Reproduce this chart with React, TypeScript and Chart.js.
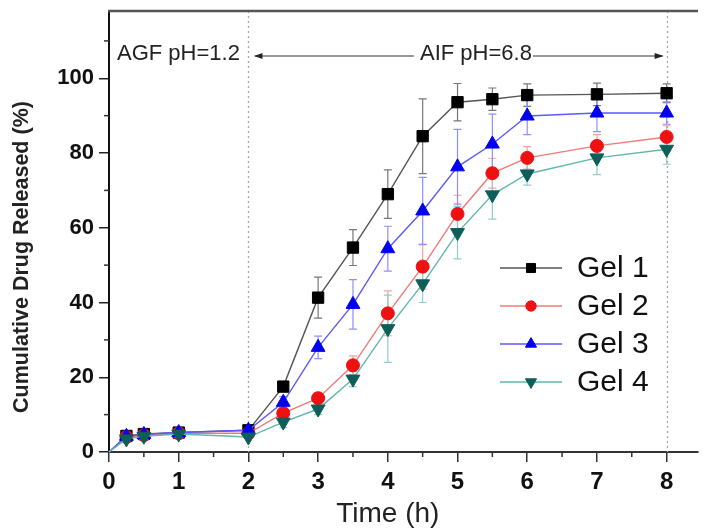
import React, { useEffect, useRef } from 'react';
import { Chart, registerables } from 'chart.js';
import { drawPoint } from 'chart.js/helpers';

Chart.register(...registerables);

// ---- data ----
const times = [0, 0.25, 0.5, 1, 2, 2.5, 3, 3.5, 4, 4.5, 5, 5.5, 6, 7, 8];
const seriesNames = ['Gel 1', 'Gel 2', 'Gel 3', 'Gel 4'];
const gel1 = [0, 4.3, 4.8, 5.2, 5.8, 17.5, 41.3, 54.7, 69.0, 84.5, 93.6, 94.4, 95.5, 95.7, 96.0];
const gel2 = [0, 4.0, 4.5, 5.0, 5.0, 10.4, 14.4, 23.2, 37.1, 49.6, 63.7, 74.6, 78.7, 81.9, 84.3];
const gel3 = [0, 4.2, 4.7, 5.2, 5.8, 13.3, 28.0, 39.5, 54.4, 64.5, 76.3, 82.4, 89.9, 90.7, 90.7];
const gel4 = [0, 3.5, 4.2, 4.8, 4.0, 8.0, 11.5, 19.5, 33.0, 45.0, 58.7, 68.8, 74.4, 78.7, 81.0];
const err1 = [0, 1, 1, 1, 1, 1, 5.5, 4.8, 6.5, 10, 5, 3, 3, 3, 2.5];
const err2 = [0, 0.8, 0.8, 1, 1, 1, 1.5, 2.5, 6, 6, 5, 4, 3, 3, 3];
const err3 = [0, 1, 1, 1.2, 1, 1.5, 3, 6.6, 6, 9, 10, 8, 5, 5, 3];
const err4 = [0, 0.8, 0.8, 1, 1, 1.5, 1.5, 2, 9, 5, 7, 6.5, 3, 4.5, 4];
const xTicks = [0, 1, 2, 3, 4, 5, 6, 7, 8];
const yTicks = [0, 20, 40, 60, 80, 100];
const phaseLabels = ['AGF pH=1.2', 'AIF pH=6.8'];
const phaseBoundaries = [2, 8];
const xTitle = 'Time (h)';
const yTitle = 'Cumulative Drug Released (%)';

const seriesValues = [gel1, gel2, gel3, gel4];
const seriesErrors = [err1, err2, err3, err4];

// ---- styles ----
const FONT = '"Liberation Sans", Arial, Helvetica, sans-serif';
const lineColors = ['#555555', '#f07a7a', '#5a5aff', '#5fb8aa'];
const markerColors = ['#000000', '#ee1111', '#0000ee', '#0d5e58'];
const errColors = ['#777777', '#f5a0a0', '#8f8fff', '#8fcfc5'];
const markerStyles = ['rect', 'circle', 'triangle', 'triangle'];
const markerRot = [0, 0, 0, 180];
const markerRadius = [8, 6.5, 8, 8];

const overlay = {
  id: 'overlay',
  beforeDatasetsDraw(chart: any) {
    const { ctx, chartArea } = chart;
    const xs = chart.scales.x;
    const ys = chart.scales.y;
    ctx.save();
    // dotted phase boundaries
    ctx.strokeStyle = '#a8a8a8';
    ctx.lineWidth = 1.3;
    ctx.setLineDash([2, 3]);
    phaseBoundaries.forEach((b) => {
      const px = Math.round(xs.getPixelForValue(b)) + 0.5;
      ctx.beginPath();
      ctx.moveTo(px, chartArea.top);
      ctx.lineTo(px, chartArea.bottom);
      ctx.stroke();
    });
    ctx.setLineDash([]);
    // error bars
    chart.data.datasets.forEach((ds: any, di: number) => {
      const errs = seriesErrors[di];
      ctx.strokeStyle = errColors[di];
      ctx.lineWidth = 1.2;
      ds.data.forEach((p: any, i: number) => {
        const e = errs[i];
        if (!e || e < 1.2) return;
        const px = xs.getPixelForValue(p.x);
        const t = ys.getPixelForValue(p.y + e);
        const b = ys.getPixelForValue(p.y - e);
        ctx.beginPath();
        ctx.moveTo(px, t);
        ctx.lineTo(px, b);
        ctx.moveTo(px - 4, t);
        ctx.lineTo(px + 4, t);
        ctx.moveTo(px - 4, b);
        ctx.lineTo(px + 4, b);
        ctx.stroke();
      });
    });
    ctx.restore();
  },
  afterDraw(chart: any) {
    const { ctx, chartArea } = chart;
    const xs = chart.scales.x;
    const ys = chart.scales.y;
    ctx.save();
    // top border
    ctx.strokeStyle = '#555';
    ctx.lineWidth = 2.5;
    ctx.beginPath();
    ctx.moveTo(chartArea.left - 1, chartArea.top);
    ctx.lineTo(chartArea.right, chartArea.top);
    ctx.stroke();
    // minor ticks
    ctx.strokeStyle = '#333';
    ctx.lineWidth = 1.5;
    for (let v = 10; v <= 110; v += 20) {
      const py = ys.getPixelForValue(v);
      ctx.beginPath();
      ctx.moveTo(chartArea.left - 5, py);
      ctx.lineTo(chartArea.left, py);
      ctx.stroke();
    }
    for (let v = 0.5; v <= 7.5; v += 1) {
      const px = xs.getPixelForValue(v);
      ctx.beginPath();
      ctx.moveTo(px, chartArea.bottom);
      ctx.lineTo(px, chartArea.bottom + 5);
      ctx.stroke();
    }
    // phase annotations
    ctx.fillStyle = '#222';
    ctx.font = `22px ${FONT}`;
    ctx.textBaseline = 'alphabetic';
    ctx.textAlign = 'left';
    const ay = 56;
    const tb = 60;
    ctx.fillText(phaseLabels[0], chartArea.left + 8, tb);
    const x2 = xs.getPixelForValue(phaseBoundaries[0]);
    const x8 = xs.getPixelForValue(phaseBoundaries[1]);
    const labelStart = 420;
    ctx.fillText(phaseLabels[1], labelStart, tb);
    const lw = ctx.measureText(phaseLabels[1]).width;
    ctx.strokeStyle = '#333';
    ctx.lineWidth = 1.2;
    ctx.beginPath();
    ctx.moveTo(x2 + 6, ay);
    ctx.lineTo(labelStart - 6, ay);
    ctx.moveTo(labelStart + lw + 1, ay);
    ctx.lineTo(x8 - 4, ay);
    ctx.stroke();
    ctx.fillStyle = '#222';
    ctx.beginPath();
    ctx.moveTo(x2 + 6, ay);
    ctx.lineTo(x2 + 14, ay - 3);
    ctx.lineTo(x2 + 14, ay + 3);
    ctx.closePath();
    ctx.fill();
    ctx.beginPath();
    ctx.moveTo(x8 - 3, ay);
    ctx.lineTo(x8 - 12, ay - 3);
    ctx.lineTo(x8 - 12, ay + 3);
    ctx.closePath();
    ctx.fill();
    // legend
    const rows = [268, 306, 344, 382];
    seriesNames.forEach((n, i) => {
      const y = rows[i];
      ctx.strokeStyle = lineColors[i];
      ctx.lineWidth = 1.5;
      ctx.beginPath();
      ctx.moveTo(500, y);
      ctx.lineTo(562, y);
      ctx.stroke();
      ctx.fillStyle = markerColors[i];
      ctx.strokeStyle = markerColors[i];
      ctx.lineWidth = 1;
      drawPoint(ctx, { pointStyle: markerStyles[i], radius: markerRadius[i] * 0.8, rotation: markerRot[i], borderWidth: 1 }, 531, y);
      ctx.fillStyle = '#111';
      ctx.font = `30px ${FONT}`;
      ctx.textAlign = 'left';
      ctx.textBaseline = 'middle';
      ctx.fillText(n, 577, y + 1);
    });
    // axis titles
    ctx.fillStyle = '#222';
    ctx.font = `28px ${FONT}`;
    ctx.textAlign = 'center';
    ctx.textBaseline = 'middle';
    ctx.fillText(xTitle, xs.getPixelForValue(4), 514);
    ctx.save();
    ctx.translate(22, 257);
    ctx.rotate(-Math.PI / 2);
    ctx.font = `bold 21.5px ${FONT}`;
    ctx.fillText(yTitle, 0, 0);
    ctx.restore();
    ctx.restore();
  },
};

export default function App() {
  const ref = useRef<HTMLCanvasElement | null>(null);
  useEffect(() => {
    if (!ref.current) return;
    const datasets = seriesValues.map((vals, i) => ({
      label: seriesNames[i],
      data: vals.map((v, j) => ({ x: times[j], y: v })),
      borderColor: lineColors[i],
      backgroundColor: markerColors[i],
      pointBackgroundColor: markerColors[i],
      pointBorderColor: markerColors[i],
      pointBorderWidth: 1,
      pointStyle: markerStyles[i],
      pointRotation: markerRot[i],
      pointRadius: (c: any) => (c.dataIndex === 0 ? 0 : markerRadius[i]),
      borderWidth: 1.4,
      tension: 0,
      order: 4 - i,
      clip: false as any,
    }));
    const chart = new Chart(ref.current, {
      type: 'line',
      data: { datasets },
      plugins: [overlay],
      options: {
        animation: false,
        responsive: false,
        maintainAspectRatio: false,
        layout: { padding: { top: 11, left: 0, right: 0, bottom: 0 } },
        plugins: { legend: { display: false }, tooltip: { enabled: false } },
        scales: {
          x: {
            type: 'linear',
            min: 0,
            max: 8.45,
            afterBuildTicks: (axis: any) => {
              axis.ticks = xTicks.map((v) => ({ value: v }));
            },
            afterFit: (s: any) => {
              s.height = 80;
              s.paddingLeft = 0;
              s.paddingRight = 0;
            },
            ticks: {
              font: { family: FONT, size: 24, weight: 'bold' },
              color: '#111',
              padding: 6,
              maxRotation: 0,
              autoSkip: false,
            },
            grid: { display: true, drawOnChartArea: false, drawTicks: true, tickLength: 10, color: '#333', lineWidth: 1.5 },
            border: { display: true, color: '#333', width: 2 },
          },
          y: {
            type: 'linear',
            min: 0,
            max: 118,
            afterBuildTicks: (axis: any) => {
              axis.ticks = yTicks.map((v) => ({ value: v }));
            },
            afterFit: (s: any) => {
              s.width = 109;
              s.paddingTop = 0;
              s.paddingBottom = 0;
            },
            ticks: {
              font: { family: FONT, size: 22, weight: 'bold' },
              color: '#111',
              padding: 5,
              autoSkip: false,
            },
            grid: { display: true, drawOnChartArea: false, drawTicks: true, tickLength: 10, color: '#222', lineWidth: 1.5 },
            border: { display: true, color: '#111', width: 2 },
          },
        },
      },
    });
    return () => chart.destroy();
  }, []);
  return (
    <div style={{ position: 'fixed', left: 0, top: 0, width: 707, height: 532, background: '#fff' }}>
      <canvas ref={ref} width={707} height={532} style={{ width: 707, height: 532, display: 'block' }} />
    </div>
  );
}
